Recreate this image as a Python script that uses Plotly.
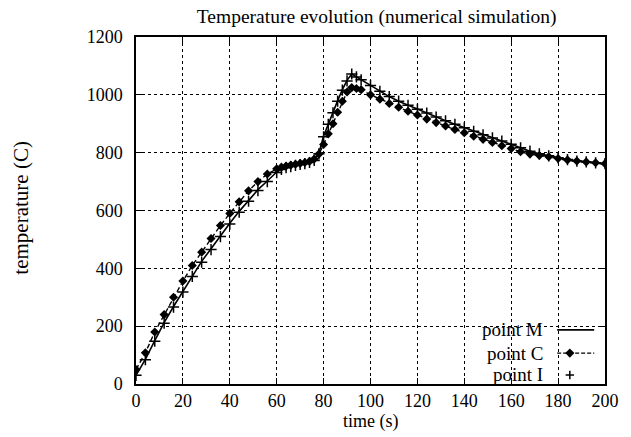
import plotly.graph_objects as go

# ---- data ----
time_s = [0, 4, 8, 12, 16, 20, 24, 28, 32, 36, 40, 44, 48, 52, 56, 60, 62, 64, 66, 68,
          70, 72, 74, 76, 78, 80, 82, 84, 86, 88, 90, 92, 94, 96, 100, 104, 108, 112, 116,
          120, 124, 128, 132, 136, 140, 144, 148, 152, 156, 160, 164, 168, 172, 176, 180,
          184, 188, 192, 196, 200]
point_M = [30, 85, 150, 212, 268, 320, 374, 424, 468, 513, 556, 597, 636, 672, 702, 733,
           743, 749, 753, 757, 760, 763, 767, 774, 798, 858, 900, 940, 980, 1018, 1050,
           1072, 1062, 1052, 1032, 1012, 994, 978, 964, 950, 937, 923, 910, 898, 886, 874,
           862, 851, 840, 829, 817, 805, 796, 789, 782, 776, 771, 768, 765, 762]
point_C = [50, 108, 180, 240, 300, 356, 410, 456, 503, 548, 590, 630, 668, 700, 726, 744,
           750, 754, 757, 760, 763, 766, 770, 778, 795, 828, 865, 900, 940, 978, 1010,
           1025, 1022, 1018, 1000, 985, 970, 957, 943, 930, 916, 904, 892, 880, 869, 857,
           846, 835, 824, 814, 803, 795, 790, 786, 780, 775, 771, 768, 765, 762]
point_I = [30, 84, 148, 210, 266, 318, 372, 421, 465, 510, 553, 594, 632, 669, 700, 731,
           742, 748, 752, 756, 759, 762, 766, 773, 796, 855, 898, 938, 978, 1016, 1048,
           1072, 1062, 1052, 1032, 1012, 994, 978, 964, 950, 937, 923, 910, 898, 886, 874,
           862, 851, 840, 829, 817, 805, 796, 789, 782, 776, 771, 768, 765, 762]
x_ticks = [0, 20, 40, 60, 80, 100, 120, 140, 160, 180, 200]
y_ticks = [0, 200, 400, 600, 800, 1000, 1200]
legend_labels = ["point M", "point C", "point I"]

FONT = "Liberation Serif, Times New Roman, serif"
DASH = "5px,3px"

fig = go.Figure()
fig.add_trace(go.Scatter(x=time_s, y=point_M, mode="lines",
                         line=dict(color="black", width=1.6), showlegend=False))
fig.add_trace(go.Scatter(x=time_s, y=point_C, mode="lines+markers",
                         line=dict(color="black", width=1.4, dash=DASH),
                         marker=dict(symbol="diamond", size=7, color="black"),
                         showlegend=False))
fig.add_trace(go.Scatter(x=time_s, y=point_I, mode="markers",
                         marker=dict(symbol="cross-thin", size=8,
                                     line=dict(color="black", width=1.5)),
                         showlegend=False))

# custom legend (text on the left of the sample) on an overlay axis
leg_y = [0.156, 0.089, 0.026]
fig.add_trace(go.Scatter(x=[0.898, 0.977], y=[leg_y[0]] * 2, xaxis="x2", yaxis="y2",
                         mode="lines", line=dict(color="black", width=1.6),
                         showlegend=False, hoverinfo="skip"))
fig.add_trace(go.Scatter(x=[0.898, 0.977], y=[leg_y[1]] * 2, xaxis="x2", yaxis="y2",
                         mode="lines", line=dict(color="black", width=1.4, dash="4px,2px"),
                         showlegend=False, hoverinfo="skip"))
fig.add_trace(go.Scatter(x=[0.925], y=[leg_y[1]], xaxis="x2", yaxis="y2",
                         mode="markers", marker=dict(symbol="diamond", size=7, color="black"),
                         showlegend=False, hoverinfo="skip"))
fig.add_trace(go.Scatter(x=[0.925], y=[leg_y[2]], xaxis="x2", yaxis="y2",
                         mode="markers",
                         marker=dict(symbol="cross-thin", size=6,
                                     line=dict(color="black", width=1.5)),
                         showlegend=False, hoverinfo="skip"))
annotations = []
for lab, yy in zip(legend_labels, leg_y):
    annotations.append(dict(x=0.873, y=yy, xref="paper", yref="paper", text=lab,
                            showarrow=False, xanchor="right", yanchor="middle",
                            font=dict(family=FONT, size=19, color="black")))
annotations.append(dict(x=-0.244, y=0.507, xref="paper", yref="paper",
                        text="temperature (C)", textangle=-90, showarrow=False,
                        xanchor="center", yanchor="middle",
                        font=dict(family=FONT, size=21, color="black")))
annotations.append(dict(x=0.5, y=-0.108, xref="paper", yref="paper",
                        text="time (s)", showarrow=False,
                        xanchor="center", yanchor="middle",
                        font=dict(family=FONT, size=18, color="black")))

axis_common = dict(showline=True, linecolor="black", linewidth=1.5, mirror="allticks",
                   ticks="inside", ticklen=6, tickcolor="black", tickwidth=1,
                   showgrid=True, gridcolor="black", gridwidth=1, griddash="dot",
                   zeroline=False, tickfont=dict(family=FONT, size=18, color="black"))

fig.update_layout(
    width=631, height=437,
    margin=dict(l=136, r=15, t=37, b=53),
    paper_bgcolor="white", plot_bgcolor="white",
    title=dict(text="Temperature evolution (numerical simulation)", x=0.597, xanchor="center",
               y=0.963, yanchor="middle",
               font=dict(family=FONT, size=19.5, color="black")),
    xaxis=dict(range=[0, 200], tickvals=x_ticks, ticklabelstandoff=0, **axis_common),
    yaxis=dict(range=[0, 1200], tickvals=y_ticks, ticklabelstandoff=8, **axis_common),
    xaxis2=dict(range=[0, 1], overlaying="x", visible=False),
    yaxis2=dict(range=[0, 1], overlaying="y", visible=False),
    annotations=annotations,
    showlegend=False,
)

fig.write_html("out.html")
